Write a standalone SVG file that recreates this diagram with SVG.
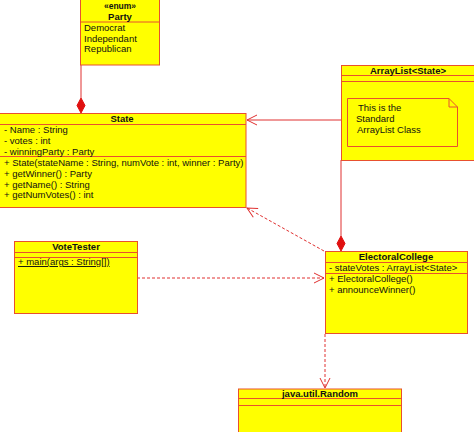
<svg xmlns="http://www.w3.org/2000/svg" width="474" height="432" viewBox="0 0 474 432">
<style>
.box{fill:#ffff00;stroke:#e8502e;stroke-width:1}
.sep{stroke:#e8502e;stroke-width:1}
.t{font-family:"Liberation Sans",Arial,sans-serif;font-size:9.5px;fill:#111}
.h{font-family:"Liberation Sans",Arial,sans-serif;font-size:9.5px;font-weight:bold;fill:#111;text-anchor:middle}
.c{fill:none;stroke:#e03030;stroke-width:1}
.d{fill:none;stroke:#e03030;stroke-width:1;stroke-dasharray:3,2}
</style>
<defs>
<marker id="open" viewBox="0 0 12 12" refX="11" refY="6" markerWidth="12" markerHeight="12" markerUnits="userSpaceOnUse" orient="auto">
<path d="M1,1 L11,6 L1,11" fill="none" stroke="#e03030" stroke-width="1"/>
</marker>
</defs>
<g id="connectors">
<line class="c" x1="81" y1="65" x2="81" y2="98"/>
<path d="M81,98 L85,105.5 L81,113 L77,105.5 Z" fill="#e01010" stroke="#e01010"/>
<line class="c" x1="341" y1="120" x2="247" y2="120" marker-end="url(#open)"/>
<line class="c" x1="341" y1="160" x2="341" y2="236"/>
<path d="M341,236 L345,243.5 L341,251 L337,243.5 Z" fill="#e01010" stroke="#e01010"/>
<line class="d" x1="324" y1="251" x2="247" y2="208" marker-end="url(#open)"/>
<line class="d" x1="137" y1="278" x2="324" y2="278" marker-end="url(#open)"/>
<line class="d" x1="325" y1="334" x2="325" y2="388" marker-end="url(#open)"/>
</g>
<g id="party">
<rect class="box" x="80.5" y="-1" width="79" height="66"/>
<line class="sep" x1="80.5" y1="22" x2="159.5" y2="22"/>
<text class="h" x="120" y="9" style="font-size:8.5px">«enum»</text>
<text class="h" x="120" y="19.5">Party</text>
<text class="t" x="84" y="31">Democrat</text>
<text class="t" x="84" y="41.5">Independant</text>
<text class="t" x="84" y="52">Republican</text>
</g>
<g id="state">
<rect class="box" x="-1" y="113.5" width="247" height="94"/>
<line class="sep" x1="-1" y1="124.5" x2="246" y2="124.5"/>
<line class="sep" x1="-1" y1="156.5" x2="246" y2="156.5"/>
<text class="h" x="122" y="122">State</text>
<text class="t" x="4" y="133">- Name : String</text>
<text class="t" x="4" y="144">- votes : int</text>
<text class="t" x="4" y="154.5">- winningParty : Party</text>
<text class="t" x="4" y="165.5">+ State(stateName : String, numVote : int, winner : Party)</text>
<text class="t" x="4" y="176.5">+ getWinner() : Party</text>
<text class="t" x="4" y="187.5">+ getName() : String</text>
<text class="t" x="4" y="198">+ getNumVotes() : int</text>
</g>
<g id="arraylist">
<rect class="box" x="341.5" y="65.5" width="134" height="95"/>
<line class="sep" x1="341.5" y1="75.5" x2="475" y2="75.5"/>
<line class="sep" x1="341.5" y1="81.5" x2="475" y2="81.5"/>
<text class="h" x="408" y="73.5">ArrayList&lt;State&gt;</text>
<path class="box" d="M347.5,98.5 L449,98.5 L457.5,107 L457.5,146.5 L347.5,146.5 Z"/>
<path d="M449,98.5 L449,107 L457.5,107" fill="none" stroke="#e8502e"/>
<text class="t" x="358" y="111">This is the</text>
<text class="t" x="356" y="122">Standard</text>
<text class="t" x="357" y="133">ArrayList Class</text>
</g>
<g id="votetester">
<rect class="box" x="14.5" y="241.5" width="123" height="72"/>
<line class="sep" x1="14.5" y1="252.5" x2="137.5" y2="252.5"/>
<line class="sep" x1="14.5" y1="257.5" x2="137.5" y2="257.5"/>
<text class="h" x="76" y="249.5">VoteTester</text>
<text class="t" x="18" y="265" text-decoration="underline">+ main(args : String[])</text>
</g>
<g id="electoralcollege">
<rect class="box" x="325.5" y="251.5" width="142" height="82"/>
<line class="sep" x1="325.5" y1="262.5" x2="467.5" y2="262.5"/>
<line class="sep" x1="325.5" y1="273.5" x2="467.5" y2="273.5"/>
<text class="h" x="396" y="260">ElectoralCollege</text>
<text class="t" x="329" y="270.5">- stateVotes : ArrayList&lt;State&gt;</text>
<text class="t" x="329" y="281.5">+ ElectoralCollege()</text>
<text class="t" x="329" y="292.5">+ announceWinner()</text>
</g>
<g id="random">
<rect class="box" x="238.5" y="389" width="163" height="50"/>
<line class="sep" x1="238.5" y1="398.5" x2="401.5" y2="398.5"/>
<line class="sep" x1="238.5" y1="405.5" x2="401.5" y2="405.5"/>
<text class="h" x="320" y="396.5">java.util.Random</text>
</g>
</svg>
